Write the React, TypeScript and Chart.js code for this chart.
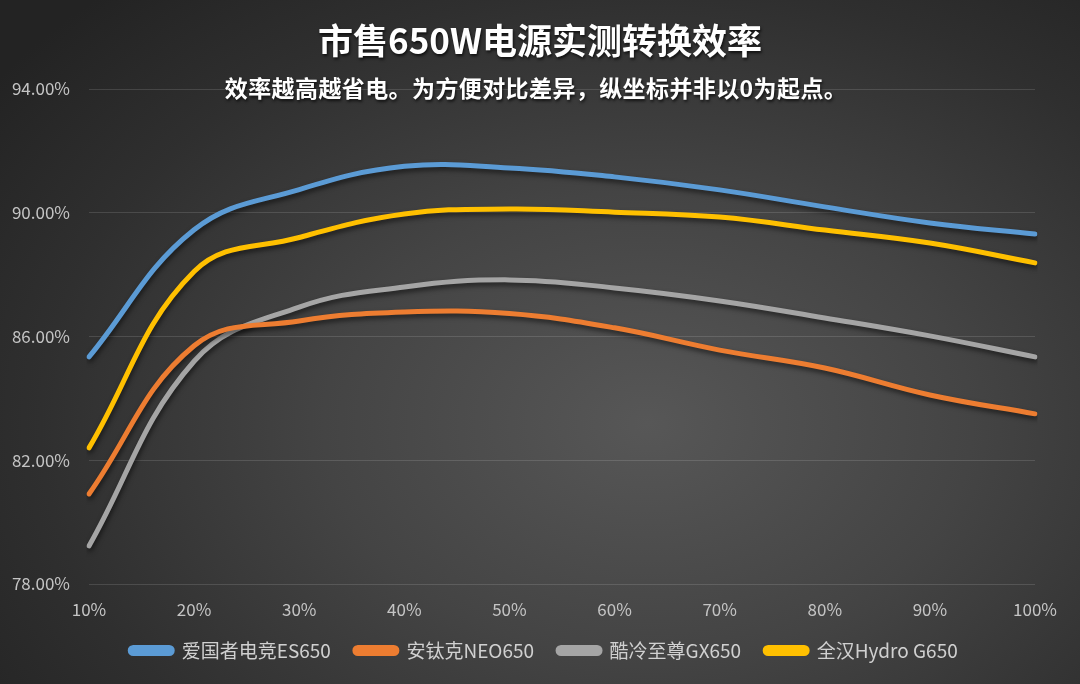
import React, { useEffect, useRef } from 'react';
import { Chart, registerables } from 'chart.js';

Chart.register(...registerables);

const TITLE = '市售650W电源实测转换效率';
const SUBTITLE = '效率越高越省电。为方便对比差异，纵坐标并非以0为起点。';

const loadLabels = ['10%', '20%', '30%', '40%', '50%', '60%', '70%', '80%', '90%', '100%'];

const seriesNames = ['爱国者电竞ES650', '安钛克NEO650', '酷冷至尊GX650', '全汉Hydro G650'];
const seriesColors = ['#5B9BD5', '#ED7D31', '#A5A5A5', '#FFC000'];

const aigoES650 = [85.34, 89.45, 90.75, 91.5, 91.45, 91.16, 90.74, 90.19, 89.67, 89.31];
const antecNEO650 = [80.91, 85.7, 86.5, 86.79, 86.74, 86.28, 85.56, 84.98, 84.11, 83.5];
const coolerGX650 = [79.23, 85.2, 86.95, 87.6, 87.83, 87.57, 87.15, 86.6, 86.02, 85.34];
const fspHydroG650 = [82.4, 88.1, 89.2, 89.96, 90.12, 90.02, 89.86, 89.44, 89.02, 88.38];

const yTicks = { min: 78, max: 94, step: 4 };

const FONT = '"Noto Sans CJK SC", "Noto Sans", sans-serif';

export default function App() {
  const ref = useRef<HTMLCanvasElement | null>(null);

  useEffect(() => {
    document.body.style.margin = '0';
    const canvas = ref.current;
    if (!canvas) return;

    const shadowPlugin = {
      id: 'lineShadow',
      beforeDatasetsDraw(chart: any) {
        const ctx = chart.ctx;
        ctx.save();
        ctx.shadowColor = 'rgba(0,0,0,0.55)';
        ctx.shadowBlur = 5;
        ctx.shadowOffsetX = 1;
        ctx.shadowOffsetY = 3;
      },
      afterDatasetsDraw(chart: any) {
        chart.ctx.restore();
      },
    };

    const legendShift = {
      id: 'legendShift',
      afterLayout(chart: any) {
        const l = chart.legend;
        if (l) {
          l.left += 22;
          l.right += 22;
        }
      },
    };

    const textPlugin = {
      id: 'titles',
      afterDraw(chart: any) {
        const ctx = chart.ctx;
        const w = chart.width;
        ctx.save();
        ctx.textAlign = 'center';
        ctx.textBaseline = 'middle';
        ctx.fillStyle = '#ffffff';
        ctx.shadowColor = 'rgba(0,0,0,0.7)';
        ctx.shadowBlur = 3;
        ctx.shadowOffsetX = 1;
        ctx.shadowOffsetY = 2;
        ctx.font = `bold 35px ${FONT}`;
        ctx.fillText(TITLE, w / 2, 41);
        ctx.font = `bold 23px ${FONT}`;
        try {
          (ctx as any).letterSpacing = '0.4px';
        } catch (e) {}
        ctx.fillText(SUBTITLE, w / 2 - 4, 88);
        ctx.restore();
      },
    };

    const datasetsValues = [aigoES650, antecNEO650, coolerGX650, fspHydroG650];

    const chart = new Chart(canvas, {
      type: 'line',
      data: {
        labels: loadLabels,
        datasets: datasetsValues.map((vals, i) => ({
          label: seriesNames[i],
          data: vals,
          borderColor: seriesColors[i],
          backgroundColor: seriesColors[i],
          borderWidth: 5,
          pointRadius: 0,
          pointHoverRadius: 0,
          tension: 0.4,
          borderCapStyle: 'round' as const,
          fill: false,
        })),
      },
      options: {
        animation: false,
        responsive: false,
        maintainAspectRatio: false,
        layout: { padding: { top: 89, left: 9, right: 45, bottom: 14 } },
        plugins: {
          title: { display: false },
          tooltip: { enabled: false },
          legend: {
            display: true,
            position: 'bottom',
            labels: {
              color: '#d0d0d0',
              font: { family: FONT, size: 19 },
              boxWidth: 42,
              boxHeight: 6,
              padding: 24,
              useBorderRadius: true,
              borderRadius: 3,
            },
          },
        },
        scales: {
          x: {
            type: 'category',
            offset: false,
            grid: { display: false, drawTicks: false },
            border: { display: false },
            ticks: {
              color: '#c4c4c4',
              font: { family: FONT, size: 17 },
              padding: 15,
              maxRotation: 0,
              autoSkip: false,
            },
            afterFit(scale: any) {
              scale.height = 33;
            },
          },
          y: {
            min: yTicks.min,
            max: yTicks.max,
            grid: { color: 'rgba(255,255,255,0.13)', lineWidth: 1, drawTicks: false },
            border: { display: false },
            ticks: {
              stepSize: yTicks.step,
              color: '#c4c4c4',
              font: { family: FONT, size: 17 },
              padding: 19,
              callback: (v: any) => Number(v).toFixed(2) + '%',
            },
            afterFit(scale: any) {
              scale.width = 80;
            },
          },
        },
      },
      plugins: [shadowPlugin, legendShift, textPlugin],
    });

    return () => chart.destroy();
  }, []);

  return (
    <div
      style={{
        position: 'relative',
        width: 1080,
        height: 684,
        background:
          'radial-gradient(ellipse 75% 85% at 60% 62%, #575757 0%, #444444 40%, #2f2f2f 75%, #232323 100%)',
      }}
    >
      <canvas ref={ref} width={1080} height={684} style={{ display: 'block' }} />
    </div>
  );
}
